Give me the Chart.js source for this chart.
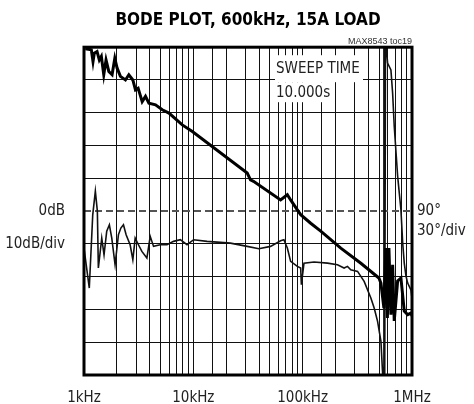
<!DOCTYPE html>
<html><head><meta charset="utf-8">
<script src="https://cdn.jsdelivr.net/npm/chart.js@4/dist/chart.umd.min.js"></script>
<style>html,body{margin:0;padding:0;background:#fff}#wrap{width:474px;height:404px}</style>
</head><body><div id="wrap"><canvas id="c" width="474" height="404"></canvas></div>
<script>
// ---- data ----
const gainFreq = [1028,1167,1209,1243,1316,1381,1441,1516,1591,1686,1807,1913,2009,2153,2393,2571,2798,2956,3127,3406,3651,3925,4510,5197,5985,7925,9795,31100,33340,35500,62830,72400,77620,89390,95900,118400,146300,223200,340600,498000,519800,553400,577000,595600,615000,641500,665000,688000,739000,792000,849500,913000,979000,1000000];
const gainDb   = [49.5,49.2,45.6,48.2,48.7,46.1,47.2,41.6,46.1,42.6,41.6,46.6,43.6,41.1,40.0,41.6,40.0,37.0,37.5,33.4,35.0,32.9,32.4,30.9,29.9,26.3,24.3,11.6,9.5,9.1,3.4,5.0,3.4,0.4,-1.1,-3.7,-6.1,-11.3,-15.9,-20.4,-22.0,-29.6,-11.3,-32.6,-11.3,-31.6,-16.4,-33.5,-21.3,-20.4,-30.5,-31.6,-31.1,-32.0];
const phaseFreq = [1000,1118,1202,1270,1325,1353,1453,1525,1614,1706,1795,1924,2064,2173,2295,2428,2642,2797,2938,3148,3383,3760,4033,4326,4980,5737,6596,7600,8750,10070,13360,21840,31100,39730,50850,62830,67330,72400,77620,89390,95900,97300,102800,127000,168600,208100,239300,257000,275500,317700,365000,420500,450800,484300,519800,538300,545500,553400,562700,572400,598000,641500,665000,688000,739000,792000,822000,849500,881000,913000,979000,1000000];
const phaseDeg  = [56.2,19.6,86.6,108.3,90,37.9,65.3,50.0,71.7,77.5,65.3,40.9,68.3,74.5,77.5,68.3,59.2,45.5,65.3,59.2,53.1,47.0,66.9,57.7,59.2,59.2,62.3,63.8,59.2,63.8,62.3,60.7,57.7,55.5,57.7,62.8,63.8,56.2,44.0,39.4,37.9,22.6,42.4,43.4,42.4,40.9,37.9,39.4,36.3,34.8,25.7,10.4,1.3,-10.9,-29.2,-58.2,-75,250,-75,250,225.4,219.2,197.9,167.7,122.0,91.2,60.7,42.4,30.6,24.1,17.7,10.4];
const freqTickValues = [1000,10000,100000,1000000];
const freqTickLabels = ['1kHz','10kHz','100kHz','1MHz'];
const gainTickValues = [0,-10];
const gainTickLabels = ['0dB','10dB/div'];
const phaseTickValues = [90,72];
const phaseTickLabels = ['90°','30°/div'];
const titleText = 'BODE PLOT, 600kHz, 15A LOAD';
const noteText = 'MAX8543 toc19';
const sweepLines = ['SWEEP TIME','10.000s'];

const NARROW = "'DejaVu Sans Condensed','Liberation Sans',sans-serif";

const decorPlugin = {
  id: 'decor',
  beforeDatasetsDraw(chart) {
    const {ctx, chartArea: a} = chart;
    ctx.save();
    ctx.fillStyle = '#fff';
    ctx.fillRect(a.left + 191, a.top + 8, 88, 27);
    ctx.fillRect(a.left + 191, a.top + 35, 54, 20);
    ctx.fillStyle = '#222';
    ctx.font = '15px ' + NARROW;
    ctx.textBaseline = 'middle';
    ctx.textAlign = 'left';
    ctx.fillText(sweepLines[0], a.left + 192, a.top + 22);
    ctx.fillText(sweepLines[1], a.left + 192, a.top + 46);
    ctx.restore();
  },
  afterDraw(chart) {
    const {ctx, chartArea: a} = chart;
    ctx.save();
    ctx.strokeStyle = '#000';
    ctx.lineWidth = 3;
    ctx.strokeRect(a.left, a.top, a.right - a.left, a.bottom - a.top);
    ctx.restore();
  }
};

new Chart(document.getElementById('c'), {
  type: 'line',
  data: {
    datasets: [
      {
        label: 'Gain',
        data: gainFreq.map((f, i) => ({x: f, y: gainDb[i]})),
        yAxisID: 'y',
        borderColor: '#000',
        borderWidth: 3,
        pointRadius: 0,
        tension: 0
      },
      {
        label: 'Phase',
        data: phaseFreq.map((f, i) => ({x: f, y: phaseDeg[i]})),
        yAxisID: 'y2',
        borderColor: '#111',
        borderWidth: 1.6,
        pointRadius: 0,
        tension: 0
      }
    ]
  },
  options: {
    responsive: false,
    animation: false,
    devicePixelRatio: 1,
    layout: {padding: 0},
    plugins: {
      legend: {display: false},
      tooltip: {enabled: false},
      title: {
        display: true, text: titleText, fullSize: false, color: '#000',
        font: {family: NARROW, size: 17, weight: 'bold'},
        padding: {top: 10, bottom: 1}
      },
      subtitle: {
        display: true, text: noteText, fullSize: false, align: 'end', color: '#333',
        font: {family: "'Liberation Sans',sans-serif", size: 9},
        padding: {top: 5, bottom: 0}
      }
    },
    scales: {
      x: {
        type: 'logarithmic', min: 1000, max: 1000000,
        afterFit(s) { s.height = 29; },
        grid: {color: '#111', lineWidth: 1, drawTicks: false},
        border: {display: false},
        ticks: {
          autoSkip: false, maxRotation: 0, padding: 14, color: '#222',
          font: {family: NARROW, size: 15},
          callback(v) { const i = freqTickValues.indexOf(v); return i >= 0 ? freqTickLabels[i] : ''; }
        }
      },
      y: {
        position: 'left', min: -50, max: 50,
        afterFit(s) { s.width = 84; },
        grid: {
          drawTicks: false,
          color: c => (c.tick && c.tick.value === 0) ? '#555' : '#111',
          lineWidth: c => (c.tick && c.tick.value === 0) ? 2 : 1
        },
        border: {display: false, dash: c => (c.tick && c.tick.value === 0) ? [7, 4] : []},
        ticks: {
          stepSize: 10, padding: 19, color: '#222',
          font: {family: NARROW, size: 15},
          callback(v) { const i = gainTickValues.indexOf(v); return i >= 0 ? gainTickLabels[i] : ''; }
        }
      },
      y2: {
        position: 'right', min: -60, max: 240,
        afterFit(s) { s.width = 62; },
        afterBuildTicks(s) { s.ticks = phaseTickValues.map(v => ({value: v})); },
        grid: {display: false, drawTicks: false},
        border: {display: false},
        ticks: {
          padding: 5, color: '#222',
          font: {family: NARROW, size: 15},
          callback(v) { const i = phaseTickValues.indexOf(v); return i >= 0 ? phaseTickLabels[i] : ''; }
        }
      }
    }
  },
  plugins: [decorPlugin]
});
</script>
</body></html>
